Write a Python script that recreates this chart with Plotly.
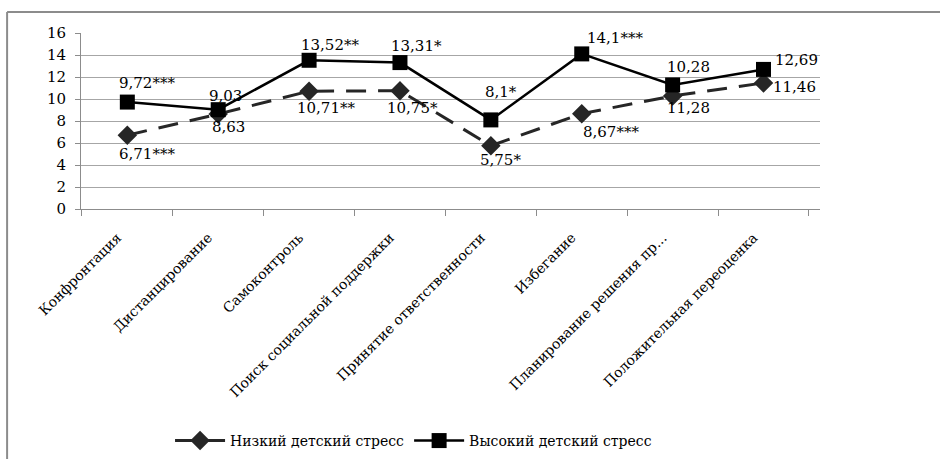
import plotly.graph_objects as go

# Coping strategies (x axis)
categories = [
    "Конфронтация",
    "Дистанцирование",
    "Самоконтроль",
    "Поиск социальной поддержки",
    "Принятие ответственности",
    "Избегание",
    "Планирование решения пр...",
    "Положительная переоценка",
]

# Mean scores per group
low_stress = [6.71, 8.63, 10.71, 10.75, 5.75, 8.67, 10.28, 11.46]
high_stress = [9.72, 9.03, 13.52, 13.31, 8.1, 14.1, 11.28, 12.69]

# Significance markers attached to the value labels
low_sig = ["***", "", "**", "*", "*", "***", "", ""]
high_sig = ["***", "", "**", "*", "*", "***", "", ""]

y_ticks = [0, 2, 4, 6, 8, 10, 12, 14, 16]

# Label offsets in pixels (dx, dy; dy positive = up)
low_label_offsets = [(20, -19), (10, -13), (17, -17), (13, -17), (10, -14),
                     (29, -18), (16, 29), (31, -4)]
high_label_offsets = [(20, 19), (7, 14), (21, 15), (17, 17), (10, 28),
                      (33, 16), (16, -23), (33, 9)]

FONT = "DejaVu Serif"


def fmt(v, sig):
    return f"{v:g}".replace(".", ",") + sig


fig = go.Figure()

fig.add_trace(go.Scatter(
    x=categories, y=low_stress, name="Низкий детский стресс",
    mode="lines+markers",
    line=dict(color="#262626", width=3, dash="20px,12px"),
    marker=dict(symbol="diamond", size=15, color="#262626"),
))
fig.add_trace(go.Scatter(
    x=categories, y=high_stress, name="Высокий детский стресс",
    mode="lines+markers",
    line=dict(color="#000000", width=2.5),
    marker=dict(symbol="square", size=15, color="#000000"),
))

annotations = []
for series, sig, offs in ((low_stress, low_sig, low_label_offsets),
                          (high_stress, high_sig, high_label_offsets)):
    for cat, v, s, (dx, dy) in zip(categories, series, sig, offs):
        annotations.append(dict(
            x=cat, y=v, xref="x", yref="y", text=fmt(v, s),
            showarrow=False, xshift=dx, yshift=dy,
            font=dict(family=FONT, size=15, color="#000000"),
        ))

# Chart frame (left and top edges)
frame_left = -0.1
frame_top = 1.119
shapes = [
    dict(type="line", xref="paper", yref="paper", x0=frame_left, x1=frame_left,
         y0=-1.5, y1=frame_top, line=dict(color="#8c8c8c", width=2)),
    dict(type="line", xref="paper", yref="paper", x0=frame_left, x1=1.2,
         y0=frame_top, y1=frame_top, line=dict(color="#8c8c8c", width=2)),
]

fig.update_layout(
    width=940, height=459,
    margin=dict(l=81, r=120, t=33, b=250, autoexpand=False),
    paper_bgcolor="white", plot_bgcolor="white",
    font=dict(family=FONT, size=15, color="#000000"),
    showlegend=True,
    legend=dict(orientation="h", x=0.45, xanchor="center", y=-1.318,
                yanchor="middle", font=dict(family=FONT, size=14),
                itemwidth=50, tracegroupgap=0, bgcolor="rgba(0,0,0,0)"),
    annotations=annotations,
    shapes=shapes,
)

fig.update_xaxes(
    type="category", tickangle=-45, showline=True, linecolor="#8c8c8c",
    linewidth=1, ticks="outside", tickson="boundaries", ticklen=6,
    tickcolor="#8c8c8c", showgrid=False, zeroline=False, automargin=False,
    ticklabelstandoff=14, ticklabelshift=-10,
    tickfont=dict(family=FONT, size=14, color="#000000"),
)
fig.update_yaxes(
    range=[0, 16], tickvals=y_ticks, ticktext=[str(t) for t in y_ticks],
    showline=True, linecolor="#8c8c8c", linewidth=1, ticks="outside",
    ticklen=5, tickcolor="#8c8c8c", showgrid=True, gridcolor="#a6a6a6",
    gridwidth=1, zeroline=False, automargin=False, ticklabelstandoff=6,
    tickfont=dict(family=FONT, size=15, color="#000000"),
)

fig.write_html("out.html")
